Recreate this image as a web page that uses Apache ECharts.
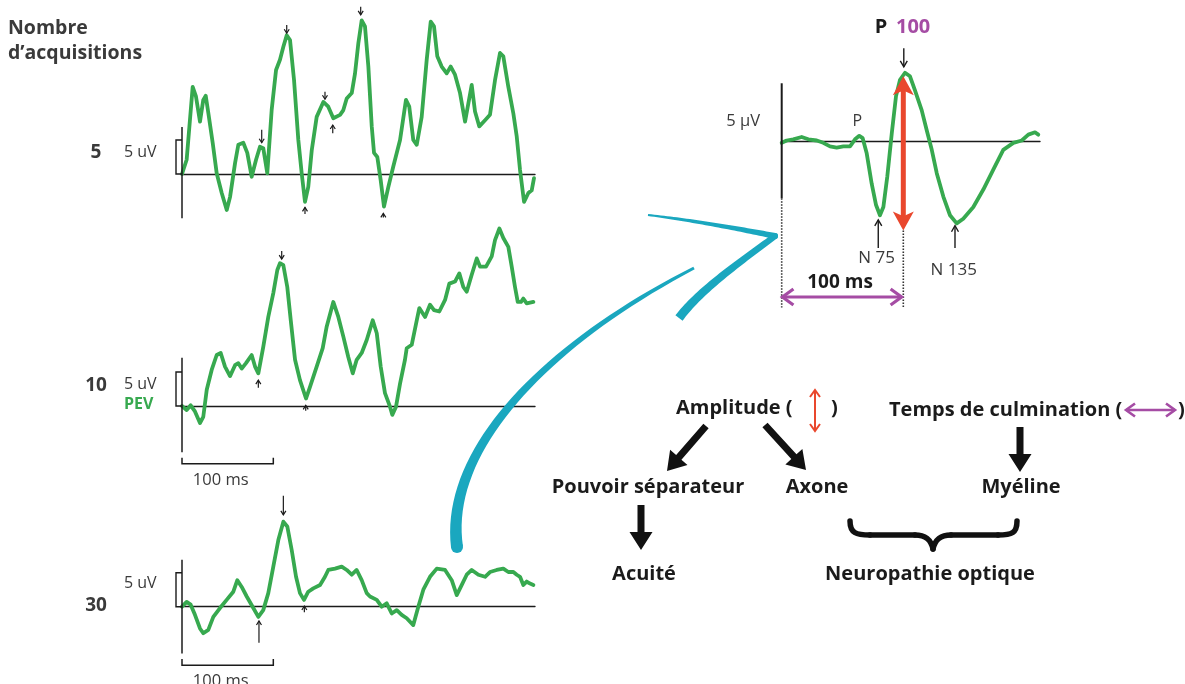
<!DOCTYPE html>
<html>
<head>
<meta charset="utf-8">
<script src="https://cdn.jsdelivr.net/npm/echarts@6/dist/echarts.min.js"></script>
<style>
  html, body { margin: 0; padding: 0; background: #ffffff; }
  #chart { width: 1185px; height: 684px; }
</style>
</head>
<body>
<div id="chart"></div>
<script>
// Visual evoked potential traces: time in ms, amplitude in µV.

// 5 acquisitions
const trace5Time = [0,5.1,11.7,15.3,19.7,23.3,26.0,28.8,33.6,38.0,43.5,49.0,52.6,58.1,61.7,67.1,71.5,76.3,81.1,85.4,89.0,93.4,98.2,103.0,107.3,111.0,114.7,118.3,122.7,127.4,131.1,134.7,138.3,142.1,147.5,154.8,160.2,165.7,173.1,176.7,180.4,185.9,189.5,193.1,196.8,200.4,204.1,207.8,210.3,213.9,217.6,221.2,226.0,231.4,238.8,245.3,248.9,253.3,257.1,262.5,268.0,272.4,276.0,279.6,284.4,289.9,294.3,299.0,304.5,310.0,317.3,320.9,325.6,331.9,337.3,342.8,348.3,351.9,357.4,362.9,366.6,370.2,374.6,379.3,383.0,385.5];
const trace5Uv = [0,2.1,12.8,11.4,7.7,10.9,11.5,9.0,4.6,0.1,-2.8,-5.3,-3.4,1.6,4.3,4.6,3.1,-0.4,2.1,4.0,3.8,0.1,9.4,15.3,16.8,18.7,20.4,19.7,13.8,5.0,0.1,-4.1,-1.9,3.5,8.4,10.6,9.9,8.2,8.7,9.4,11.1,11.9,14.8,19.2,22.6,21.7,15.8,7.0,3.1,2.5,-0.9,-4.8,-1.9,1.1,5.0,10.9,9.9,5.0,4.3,8.4,16.8,22.4,21.7,17.3,15.8,14.8,15.8,14.6,11.9,7.7,13.1,9.2,7.0,7.9,8.7,13.8,17.8,17.3,12.8,8.9,5.5,0.6,-4.1,-2.8,-2.4,-0.6];

// 10 acquisitions
const trace10Time = [0,5.1,9.5,14.2,19.7,23.3,27.1,32.5,38.0,42.4,47.1,52.6,58.1,61.7,65.4,70.1,76.3,80.0,83.6,89.0,94.5,100.0,104.4,107.3,111.0,115.3,119.1,123.8,129.2,135.8,140.2,147.5,154.1,158.5,165.7,171.2,176.7,182.1,187.0,191.3,196.8,202.3,208.9,213.3,217.6,222.3,227.8,230.3,234.4,238.8,244.2,246.1,251.6,257.1,259.9,266.2,271.6,276.0,281.8,288.1,292.8,299.0,303.7,308.1,311.8,317.3,322.8,326.4,333.0,339.2,342.8,347.6,351.9,357.4,361.1,364.7,367.7,371.3,373.8,377.5,384.8];
const trace10Uv = [0,-0.6,0.1,-0.8,-2.5,-1.6,2.4,5.3,7.5,7.8,5.8,4.4,6.0,6.3,5.5,6.3,7.5,5.8,4.8,8.7,13.1,16.6,20.0,21.0,20.7,17.5,12.6,6.8,3.8,1.1,2.8,5.8,8.5,11.7,15.3,13.1,10.2,7.2,4.8,6.8,7.8,9.7,12.6,10.7,5.8,1.9,-0.1,-1.3,-0.1,3.3,6.8,8.5,9.0,12.6,14.4,13.1,14.9,14.1,13.9,15.6,18.0,18.3,19.5,17.5,16.8,19.3,21.7,20.5,20.5,22.0,24.4,26.1,24.7,23.4,20.5,17.5,15.3,15.3,15.8,15.1,15.3];

// 30 acquisitions
const trace30Time = [0,5.1,9.5,14.2,19.7,23.3,28.8,34.3,41.6,48.9,56.2,60.6,65.4,70.9,78.1,83.6,89.0,94.5,100.0,105.5,111.0,115.3,120.2,124.9,129.2,133.6,138.3,143.8,151.2,156.6,160.2,167.6,174.9,180.4,185.9,191.3,196.8,202.3,205.9,213.3,218.7,224.2,229.7,235.2,240.6,246.1,253.3,258.8,264.3,271.6,279.0,288.1,295.4,300.9,306.4,311.8,317.3,324.6,331.9,337.3,344.6,351.9,357.4,362.9,366.6,370.2,373.8,377.5,381.2,384.8];
const trace30Uv = [0,0.7,0.3,-1.2,-3.2,-3.9,-3.4,-1.5,-0.2,1.0,2.2,3.9,2.9,1.5,-0.2,-1.5,-0.5,2.0,5.9,9.8,12.5,11.8,8.3,4.4,2.0,1.0,2.2,2.7,3.2,4.4,5.4,5.6,5.9,5.4,4.7,5.4,3.9,2.0,1.5,1.0,0,0.5,-1.0,-0.5,-1.2,-1.7,-2.7,0,2.5,4.4,5.6,5.4,3.9,1.7,3.2,4.7,5.4,4.7,4.4,5.1,5.4,5.6,5.1,5.1,4.7,4.4,3.2,3.7,3.4,3.2];

// Averaged response with the N75 / P100 / N135 components
const pevTime = [0,4.1,9.5,16.4,21.9,28.8,34.2,39.7,45.2,50.7,56.2,60.3,63.8,66.6,69.9,74.0,77.5,80.8,83.6,86.8,90.5,94.0,97.3,101.4,105.5,109.6,115.1,119.2,123.4,127.5,132.9,138.4,143.9,149.3,157.6,165.8,174.0,182.2,190.5,197.4,202.8,208.3,211.0];
const pevUv = [-0.1,0.1,0.2,0.4,0.2,0.1,-0.1,-0.4,-0.5,-0.4,-0.4,0.2,0.5,0.3,-1.0,-3.6,-5.4,-6.3,-5.6,-3.0,0.7,3.9,5.3,5.9,5.6,4.4,2.7,1.0,-0.7,-2.7,-4.7,-6.3,-7.0,-6.6,-5.6,-4.1,-2.4,-0.7,-0.1,0.1,0.6,0.8,0.6];

// Peak markers: [time ms, arrow tail µV, arrow tip µV]
const trace5Marks = [[87.3,6.5,4.6],[114.7,21.9,20.7],[156.6,12.1,11.0],[165.1,6.0,7.2],[134.7,-5.9,-4.9],[195.7,24.6,23.4],[220.5,-6.4,-5.8]];
const trace10Marks = [[109.2,22.8,21.6],[83.6,2.7,3.8],[135.5,-0.7,0.1]];
const trace30Marks = [[111.0,16.3,13.5],[84.3,-5.3,-2.1],[134.0,-0.8,0.1]];
const pevMarks = [[100.4,8.0,6.4],[79.4,-9.1,-6.7],[142.5,-9.1,-7.2]];

const acquisitionLabels = ['5', '10', '30'];
const scaleLabel = '5 uV';
const timeScaleLabel = '100 ms';

const GREEN = '#37a94f', CYAN = '#1aa7bf', RED = '#e9472d', PURPLE = '#a54ca4', INK = '#1b1b1b', GREY = '#3a3a3a';
const FONT = '"Open Sans", "Noto Sans", sans-serif';

const zip = (xs, ys) => xs.map((x, i) => [x, ys[i]]);

const grids = [
  { left: 182, top: 10.8, width: 353, height: 207.4 },
  { left: 182, top: 222.4, width: 353, height: 231.2 },
  { left: 182, top: 491.1, width: 353, height: 163.2 },
  { left: 781.7, top: 42.4, width: 258.3, height: 268.6 }
];
const xRanges = [[0, 386.6], [0, 386.6], [0, 386.6], [0, 212.4]];
const yRanges = [[-6.5, 24], [-7, 27], [-7, 17], [-14.5, 8.5]];
const traces = [zip(trace5Time, trace5Uv), zip(trace10Time, trace10Uv), zip(trace30Time, trace30Uv), zip(pevTime, pevUv)];

const chart = echarts.init(document.getElementById('chart'), null, { renderer: 'canvas' });

chart.setOption({
  animation: false,
  backgroundColor: '#ffffff',
  grid: grids.map(g => Object.assign({ containLabel: false }, g)),
  xAxis: grids.map((g, i) => ({
    type: 'value', gridIndex: i, min: xRanges[i][0], max: xRanges[i][1],
    axisLine: { show: true, onZero: true, lineStyle: { color: INK, width: 1.4 } },
    axisTick: { show: false }, axisLabel: { show: false }, splitLine: { show: false }
  })),
  yAxis: grids.map((g, i) => ({
    type: 'value', gridIndex: i, min: yRanges[i][0], max: yRanges[i][1],
    axisLine: { show: false }, axisTick: { show: false }, axisLabel: { show: false }, splitLine: { show: false }
  })),
  series: traces.map((d, i) => ({
    type: 'line', xAxisIndex: i, yAxisIndex: i, data: d,
    showSymbol: false, smooth: false, z: 3,
    lineStyle: { color: GREEN, width: 3.8, join: 'round', cap: 'round' }
  }))
});

const P = (g, t, v) => chart.convertToPixel({ seriesIndex: g }, [t, v]);

const els = [];
const line = (a, b, stroke, lw, dash) => els.push({
  type: 'line', z: 10, shape: { x1: a[0], y1: a[1], x2: b[0], y2: b[1] },
  style: { stroke, lineWidth: lw, lineDash: dash || null, lineCap: 'butt' }
});
const poly = (pts, stroke, lw, extra) => els.push(Object.assign({
  type: 'polyline', z: 10, shape: { points: pts },
  style: { stroke, lineWidth: lw, fill: null, lineJoin: 'miter' }
}, extra || {}));
const fillPoly = (pts, fill) => els.push({ type: 'polygon', z: 11, shape: { points: pts }, style: { fill, stroke: null } });
const text = (str, x, y, font, fill, align) => els.push({
  type: 'text', z: 12,
  style: { text: str, x, y, font, fill, textAlign: align || 'left', align: align || 'left', textVerticalAlign: 'middle', verticalAlign: 'middle' }
});

// open chevron head at tip, pointing away from "from"
function chevron(tip, from, len, spread) {
  const dx = tip[0] - from[0], dy = tip[1] - from[1], L = Math.hypot(dx, dy);
  const ux = dx / L, uy = dy / L, nx = -uy, ny = ux;
  const bx = tip[0] - ux * len, by = tip[1] - uy * len;
  return [[bx + nx * spread, by + ny * spread], tip, [bx - nx * spread, by - ny * spread]];
}
function thinArrow(a, b, color, lw, len, spread, both) {
  line(a, b, color, lw);
  poly(chevron(b, a, len, spread), color, lw);
  if (both) poly(chevron(a, b, len, spread), color, lw);
}
function fatArrow(a, b, color, sw, hl, hw) {
  const dx = b[0] - a[0], dy = b[1] - a[1], L = Math.hypot(dx, dy);
  const ux = dx / L, uy = dy / L, nx = -uy, ny = ux;
  const bx = b[0] - ux * hl, by = b[1] - uy * hl;
  fillPoly([
    [a[0] + nx * sw / 2, a[1] + ny * sw / 2], [bx + nx * sw / 2, by + ny * sw / 2],
    [bx + nx * hw / 2, by + ny * hw / 2], b,
    [bx - nx * hw / 2, by - ny * hw / 2], [bx - nx * sw / 2, by - ny * sw / 2],
    [a[0] - nx * sw / 2, a[1] - ny * sw / 2]
  ], color);
}
function filledHead(tip, from, hl, hw, color) {
  const dx = tip[0] - from[0], dy = tip[1] - from[1], L = Math.hypot(dx, dy);
  const ux = dx / L, uy = dy / L, nx = -uy, ny = ux;
  const bx = tip[0] - ux * hl, by = tip[1] - uy * hl;
  fillPoly([[bx + nx * hw / 2, by + ny * hw / 2], tip, [bx - nx * hw / 2, by - ny * hw / 2], [tip[0] - ux * hl * 0.75, tip[1] - uy * hl * 0.75]], color);
}
// brush-like stroke along a cubic curve, width varying from w0 to w1
function taper(p0, c1, c2, p3, w0, w1, color) {
  const N = 40, left = [], right = [];
  for (let i = 0; i <= N; i++) {
    const s = i / N, m = 1 - s;
    const x = m*m*m*p0[0] + 3*m*m*s*c1[0] + 3*m*s*s*c2[0] + s*s*s*p3[0];
    const y = m*m*m*p0[1] + 3*m*m*s*c1[1] + 3*m*s*s*c2[1] + s*s*s*p3[1];
    const tx = 3*m*m*(c1[0]-p0[0]) + 6*m*s*(c2[0]-c1[0]) + 3*s*s*(p3[0]-c2[0]);
    const ty = 3*m*m*(c1[1]-p0[1]) + 6*m*s*(c2[1]-c1[1]) + 3*s*s*(p3[1]-c2[1]);
    const L = Math.hypot(tx, ty) || 1, w = (w0 + (w1 - w0) * s) / 2;
    left.push([x - ty / L * w, y + tx / L * w]);
    right.push([x + ty / L * w, y - tx / L * w]);
  }
  fillPoly(left.concat(right.reverse()), color);
  els.push({ type: 'circle', z: 11, shape: { cx: p0[0], cy: p0[1], r: w0 / 2 }, style: { fill: color } });
}

// --- left column: raw traces ---
const axisSpans = [[-6.5, 6.9], [-6.8, 7.1], [-6.9, 6.9]];
const labelRows = [{ num: 153, uv: 152 }, { num: 386, uv: 384 }, { num: 606, uv: 583 }];
const marksByTrace = [trace5Marks, trace10Marks, trace30Marks];
for (let g = 0; g < 3; g++) {
  line(P(g, 0, axisSpans[g][0]), P(g, 0, axisSpans[g][1]), INK, 1.5);
  const z0 = P(g, 0, 0), z5 = P(g, 0, 5);
  poly([[z5[0], z5[1]], [z5[0] - 6, z5[1]], [z0[0] - 6, z0[1]], [z0[0], z0[1]]], INK, 1.4);
  marksByTrace[g].forEach(m => thinArrow(P(g, m[0], m[1]), P(g, m[0], m[2]), INK, 1.2, 4, 2.5));
  text(acquisitionLabels[g], 96, labelRows[g].num, 'bold 19px ' + FONT, GREY, 'center');
  text(scaleLabel, 124, labelRows[g].uv, '16px ' + FONT, GREY, 'left');
}
text('PEV', 124, 404, 'bold 16px ' + FONT, GREEN, 'left');
// 100 ms time scale bars
[[1, -7.6, -8.5, 480], [2, -7.7, -8.6, 681]].forEach(([g, v1, v2, ty]) => {
  const a = P(g, 0, v1), b = P(g, 0, v2), c = P(g, 100, v2), d = P(g, 100, v1);
  poly([a, b, c, d], INK, 1.5);
  text(timeScaleLabel, (b[0] + c[0]) / 2 - 7, ty, '16.5px ' + FONT, GREY, 'center');
});
text('Nombre', 8, 28, 'bold 19.5px ' + FONT, GREY, 'left');
text('d\u2019acquisitions', 8, 53, 'bold 19.5px ' + FONT, GREY, 'left');

// --- averaged response panel ---
line(P(3, 0, 5.0), P(3, 0, -4.85), INK, 2);
line(P(3, 0, -4.85), P(3, 0, -14.2), '#333', 1.6, [1.5, 1.5]);
line(P(3, 100, -7.6), P(3, 100, -14.2), '#333', 1.6, [1.5, 1.5]);
pevMarks.forEach(m => thinArrow(P(3, m[0], m[1]), P(3, m[0], m[2]), INK, 1.4, 6, 3.5));
// amplitude: red double arrow N75 -> P100
{
  const top = P(3, 100, 5.6), bot = P(3, 100, -7.6);
  const mid = [(top[0] + bot[0]) / 2, (top[1] + bot[1]) / 2];
  line([top[0], top[1] + 12], [bot[0], bot[1] - 12], RED, 5);
  filledHead(top, mid, 19, 21, RED);
  filledHead(bot, mid, 19, 21, RED);
}
// latency: purple double arrow 0 -> 100 ms
{
  const a = P(3, 0.6, -13.3), b = P(3, 98.6, -13.3);
  thinArrow(a, b, PURPLE, 3.2, 11, 8, true);
}
text('100 ms', P(3, 48, 0)[0], 283, 'bold 19px ' + FONT, INK, 'center');
text('5 \u00b5V', 760, 121, '16.5px ' + FONT, GREY, 'right');
text('P', P(3, 63, 0)[0] - 1, 121, '16px ' + FONT, GREY, 'center');
text('N 75', P(3, 78, 0)[0], 258, '17px ' + FONT, GREY, 'center');
text('N 135', P(3, 141.5, 0)[0], 270, '17px ' + FONT, GREY, 'center');
text('P', 881, 27, 'bold 20px ' + FONT, INK, 'center');
text('100', 896, 27, 'bold 20px ' + FONT, PURPLE, 'left');

// --- cyan arrow from the traces to the averaged response ---
taper([457, 547], [444, 450], [545, 345], [694, 268], 12, 3, CYAN);
taper([775, 236], [735, 228], [690, 220], [648, 215], 6, 2, CYAN);
taper([775, 236], [740, 262], [700, 290], [679, 318], 6, 9, CYAN);

// --- interpretation diagram ---
const BOLD = 'bold 20px ' + FONT;
text('Amplitude (', 676, 408, BOLD, INK, 'left');
text(')', 831, 408, BOLD, INK, 'left');
thinArrow([815, 390], [815, 431], RED, 2, 7, 5, true);
text('Temps de culmination (', 889, 410, BOLD, INK, 'left');
thinArrow([1126, 410], [1175, 410], PURPLE, 2.6, 9, 6.5, true);
text(')', 1178, 410, BOLD, INK, 'left');
fatArrow([706, 426], [667, 471], '#111', 7, 18, 23);
fatArrow([765, 425], [806, 470], '#111', 7, 18, 23);
fatArrow([1020, 427], [1020, 472], '#111', 7, 18, 23);
fatArrow([641, 505], [641, 550], '#111', 7, 18, 23);
text('Pouvoir s\u00e9parateur', 648, 487, BOLD, INK, 'center');
text('Axone', 817, 487, BOLD, INK, 'center');
text('My\u00e9line', 1021, 487, BOLD, INK, 'center');
text('Acuit\u00e9', 644, 574, BOLD, INK, 'center');
text('Neuropathie optique', 930, 574, BOLD, INK, 'center');
// curly brace grouping Axone and Myéline
const braceStyle = { stroke: '#111', lineWidth: 5.5, fill: null, lineCap: 'round' };
[
  { x1: 850, y1: 521, cpx1: 850, cpy1: 533, cpx2: 856, cpy2: 535, x2: 870, y2: 535 },
  { x1: 915, y1: 535, cpx1: 926, cpy1: 535, cpx2: 931, cpy2: 540, x2: 933, y2: 549 },
  { x1: 933, y1: 549, cpx1: 935, cpy1: 540, cpx2: 940, cpy2: 535, x2: 951, y2: 535 },
  { x1: 998, y1: 535, cpx1: 1012, cpy1: 535, cpx2: 1017, cpy2: 533, x2: 1017, y2: 521 }
].forEach(s => els.push({ type: 'bezierCurve', z: 10, shape: s, style: braceStyle }));
els.push({ type: 'line', z: 10, shape: { x1: 870, y1: 535, x2: 915, y2: 535 }, style: braceStyle });
els.push({ type: 'line', z: 10, shape: { x1: 951, y1: 535, x2: 998, y2: 535 }, style: braceStyle });

chart.setOption({ graphic: { elements: els } });
</script>
</body>
</html>
